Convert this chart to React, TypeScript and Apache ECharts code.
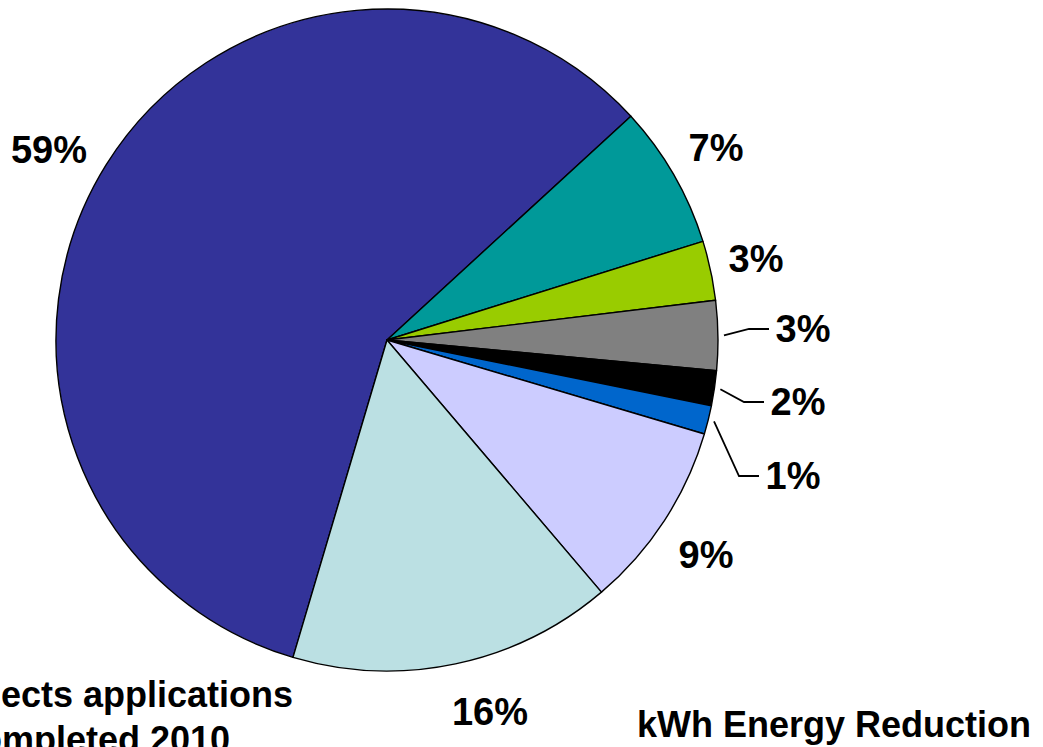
import React, { useEffect, useRef } from "react";
import * as echarts from "echarts";

// Slice shares (percent), clockwise from the big slice
const categories = ["A", "B", "C", "D", "E", "F", "G", "H"];
const shares = [58.6, 7.0, 2.9, 3.4, 1.7, 1.4, 9.2, 15.8];
const colors = ["#333399", "#009999", "#99CC00", "#808080", "#000000", "#0066CC", "#CCCCFF", "#BBE0E3"];
const leaderSlices = [3, 4, 5];

const titleLeftLines = ["Projects applications", "completed 2010"];
const titleRight = "kWh Energy Reduction";

const FONT = '"Liberation Sans", Arial, Helvetica, sans-serif';

export default function App() {
  const ref = useRef<HTMLDivElement>(null);
  useEffect(() => {
    if (!ref.current) return;
    const chart = echarts.init(ref.current, undefined, { renderer: "svg" });
    const cx = 387, cy = 340, R = 331;
    const startAngle = -106.5; // echarts degrees
    const total = shares.reduce((a, b) => a + b, 0);
    const mids: number[] = [];
    let acc = 90 - startAngle; // clockwise-from-top degrees
    shares.forEach((v) => {
      const span = (v / total) * 360;
      mids.push(acc + span / 2);
      acc += span;
    });
    // label centres (layout)
    const labelPos: number[][] = [
      [49, 150], [716, 148], [756, 259], [803, 329], [798, 402], [793, 476], [706, 555], [490, 712],
    ];
    const labelHalfW = 29;
    chart.setOption({
      animation: false,
      series: [
        {
          type: "pie",
          center: [cx, cy],
          radius: [0, R],
          startAngle,
          clockwise: true,
          avoidLabelOverlap: false,
          itemStyle: { borderColor: "#000", borderWidth: 1.4 },
          label: {
            show: true,
            position: "outside",
            formatter: (p: any) => Math.round(p.value) + "%",
            fontFamily: FONT,
            fontWeight: "bold",
            fontSize: 38,
            color: "#000",
          },
          labelLine: { show: false, lineStyle: { color: "#000", width: 1.8 } },
          emphasis: { disabled: true },
          labelLayout: (params: any) => {
            const i = params.dataIndex;
            const [lx, ly] = labelPos[i];
            const out: any = { x: lx, y: ly, align: "center", verticalAlign: "middle" };
            if (leaderSlices.indexOf(i) >= 0) {
              const a = (mids[i] * Math.PI) / 180;
              const sx = cx + (R + 6) * Math.sin(a);
              const sy = cy - (R + 6) * Math.cos(a);
              const left = lx - labelHalfW;
              out.labelLinePoints = [[sx, sy], [left - 25, ly], [left - 5, ly]];
            }
            return out;
          },
          data: shares.map((v, i) => ({
            name: categories[i],
            value: v,
            itemStyle: { color: colors[i] },
            labelLine: { show: leaderSlices.indexOf(i) >= 0 },
          })),
        },
      ],
      graphic: [
        {
          type: "text",
          style: {
            text: titleLeftLines[0], x: 293, y: 694,
            fontFamily: FONT, fontWeight: "bold", fontSize: 36, fill: "#000",
            align: "right", verticalAlign: "middle", textAlign: "right", textVerticalAlign: "middle",
          },
        },
        {
          type: "text",
          style: {
            text: titleLeftLines[1], x: 230, y: 739,
            fontFamily: FONT, fontWeight: "bold", fontSize: 36, fill: "#000",
            align: "right", verticalAlign: "middle", textAlign: "right", textVerticalAlign: "middle",
          },
        },
        {
          type: "text",
          style: {
            text: titleRight, x: 637, y: 724,
            fontFamily: FONT, fontWeight: "bold", fontSize: 36, fill: "#000",
            align: "left", verticalAlign: "middle", textAlign: "left", textVerticalAlign: "middle",
          },
        },
      ],
    });
    return () => chart.dispose();
  }, []);
  return (
    <div
      ref={ref}
      style={{ position: "absolute", left: 0, top: 0, width: 1043, height: 747, background: "#fff" }}
    />
  );
}
